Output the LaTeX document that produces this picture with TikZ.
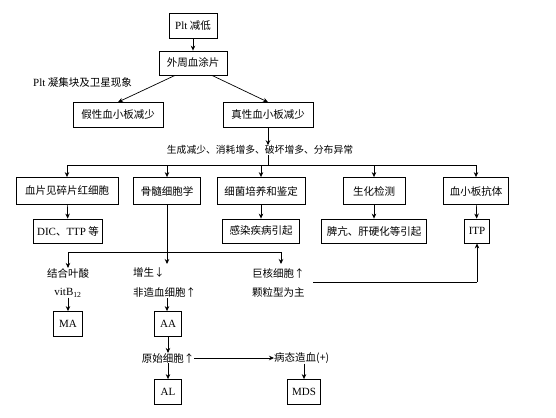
\documentclass[tikz,border=0pt]{standalone}
\usepackage{fontspec}
\setmainfont{Liberation Serif}
\newfontfamily\cjk{Noto Sans CJK SC}
\newcommand{\lat}[1]{{\rmfamily\fontsize{11}{12}\selectfont #1}}
\usetikzlibrary{arrows.meta}
\begin{document}
\begin{tikzpicture}[x=1pt,y=-1pt,
  every node/.style={font=\cjk\fontsize{10.5}{12}\selectfont, inner sep=0pt},
  box/.style={draw, line width=0.8pt, minimum height=25pt},
  txt/.style={anchor=center},
  ltxt/.style={anchor=west},
  arr/.style={-{Stealth[length=5pt,width=4.5pt]}, line width=0.7pt},
  ln/.style={line width=0.7pt}]
\useasboundingbox (0,0) rectangle (556,417);
% main chain
\node[box, minimum width=48pt] (plt) at (193,26) {\lat{Plt} 减低};
\node[box, minimum width=68pt, minimum height=24pt] (smear) at (193,63) {外周血涂片};
\node[box, minimum width=90pt] (fake) at (118,115) {假性血小板减少};
\node[box, minimum width=90pt] (true) at (268,115) {真性血小板减少};
\node[ltxt] (clump) at (33,83) {\lat{Plt} 凝集块及卫星现象};
\node[txt, font=\cjk\fontsize{9.8}{12}\selectfont] (cause) at (260,150) {生成减少、消耗增多、破坏增多、分布异常};
\coordinate (hub) at (268,165);
% row 1
\node[box, minimum width=102pt, minimum height=27pt] (b1) at (67,191) {血片见碎片红细胞};
\node[box, minimum width=67pt, minimum height=27pt] (b2) at (167,191) {骨髓细胞学};
\node[box, minimum width=88pt, minimum height=27pt] (b3) at (261,191) {细菌培养和鉴定};
\node[box, minimum width=62pt, minimum height=27pt] (b4) at (374,191) {生化检测};
\node[box, minimum width=65pt, minimum height=27pt] (b5) at (476,191) {血小板抗体};
% row 2
\node[box, minimum width=69pt, minimum height=24pt] (c1) at (68,231) {\lat{DIC}、\lat{TTP} 等};
\node[box, minimum width=77pt, minimum height=24pt] (c3) at (261,231) {感染疾病引起};
\node[box, minimum width=105pt, minimum height=24pt] (c4) at (374,231) {脾亢、肝硬化等引起};
\node[box, minimum width=25pt, minimum height=24pt] (c5) at (477,231) {\lat{ITP}};
% marrow branches
\coordinate (mhub) at (167,252);
\coordinate (mright) at (281,252);
\node[txt] (t1a) at (68,273) {结合叶酸};
\node[txt] (t1b) at (68,293) {\lat{vitB\textsubscript{12}}};
\node[box, minimum width=29pt] (ma) at (68,324) {\lat{MA}};
\node[ltxt] (t2a) at (133,273) {增生↓};
\node[ltxt] (t2b) at (133,292) {非造血细胞↑};
\node[box, minimum width=27pt] (aa) at (168,324) {\lat{AA}};
\node[txt] (t3) at (168,358) {原始细胞↑};
\node[box, minimum width=27pt] (al) at (168,392) {\lat{AL}};
\node[ltxt] (t4) at (274,358) {病态造血(+)};
\node[box, minimum width=33pt] (mds) at (304,392) {\lat{MDS}};
\node[ltxt] (t5a) at (252,273) {巨核细胞↑};
\node[ltxt] (t5b) at (252,293) {颗粒型为主};
\coordinate (t5e) at (313,282);
\coordinate (itpturn) at (477,282);
% connectors
\draw[arr] (plt) -- (smear);
\draw[arr] ([xshift=-18pt]smear.south) -- (fake.north);
\draw[arr] ([xshift=19pt]smear.south) -- (true.north);
\draw[arr] (true.south) -- (true.south |- cause.north);
\draw[ln] (true.south |- cause.south) -- (hub);
\draw[ln] (b1.north |- hub) -- (b5.north |- hub);
\foreach \b in {b1,b2,b3,b4,b5}
  \draw[arr] (\b.north |- hub) -- (\b.north);
\draw[arr] (b1) -- (c1);
\draw[arr] (b3) -- (c3);
\draw[arr] (b4) -- (c4);
\draw[arr] (b5) -- (c5);
\draw[ln] (b2.south) -- (mhub);
\draw[ln] (t1a.north |- mhub) -- (mright);
\draw[arr] (t1a.north |- mhub) -- (t1a.north);
\draw[arr] (mhub) -- ++(0,12);
\draw[arr] (mright) -- ++(0,12);
\draw[arr] (t1b.south) -- (ma.north);
\draw[arr] (167,298) -- (aa.north -| 167,0);
\draw[arr] (aa.south) -- (t3.north);
\draw[arr] (t3.south) -- (al.north);
\draw[arr] (t3.east) -- (t4.west);
\draw[arr] (t4.south -| mds.north) -- (mds.north);
\draw[ln] (t5e) -- (itpturn);
\draw[arr] (itpturn) -- (c5.south);
\end{tikzpicture}
\end{document}
